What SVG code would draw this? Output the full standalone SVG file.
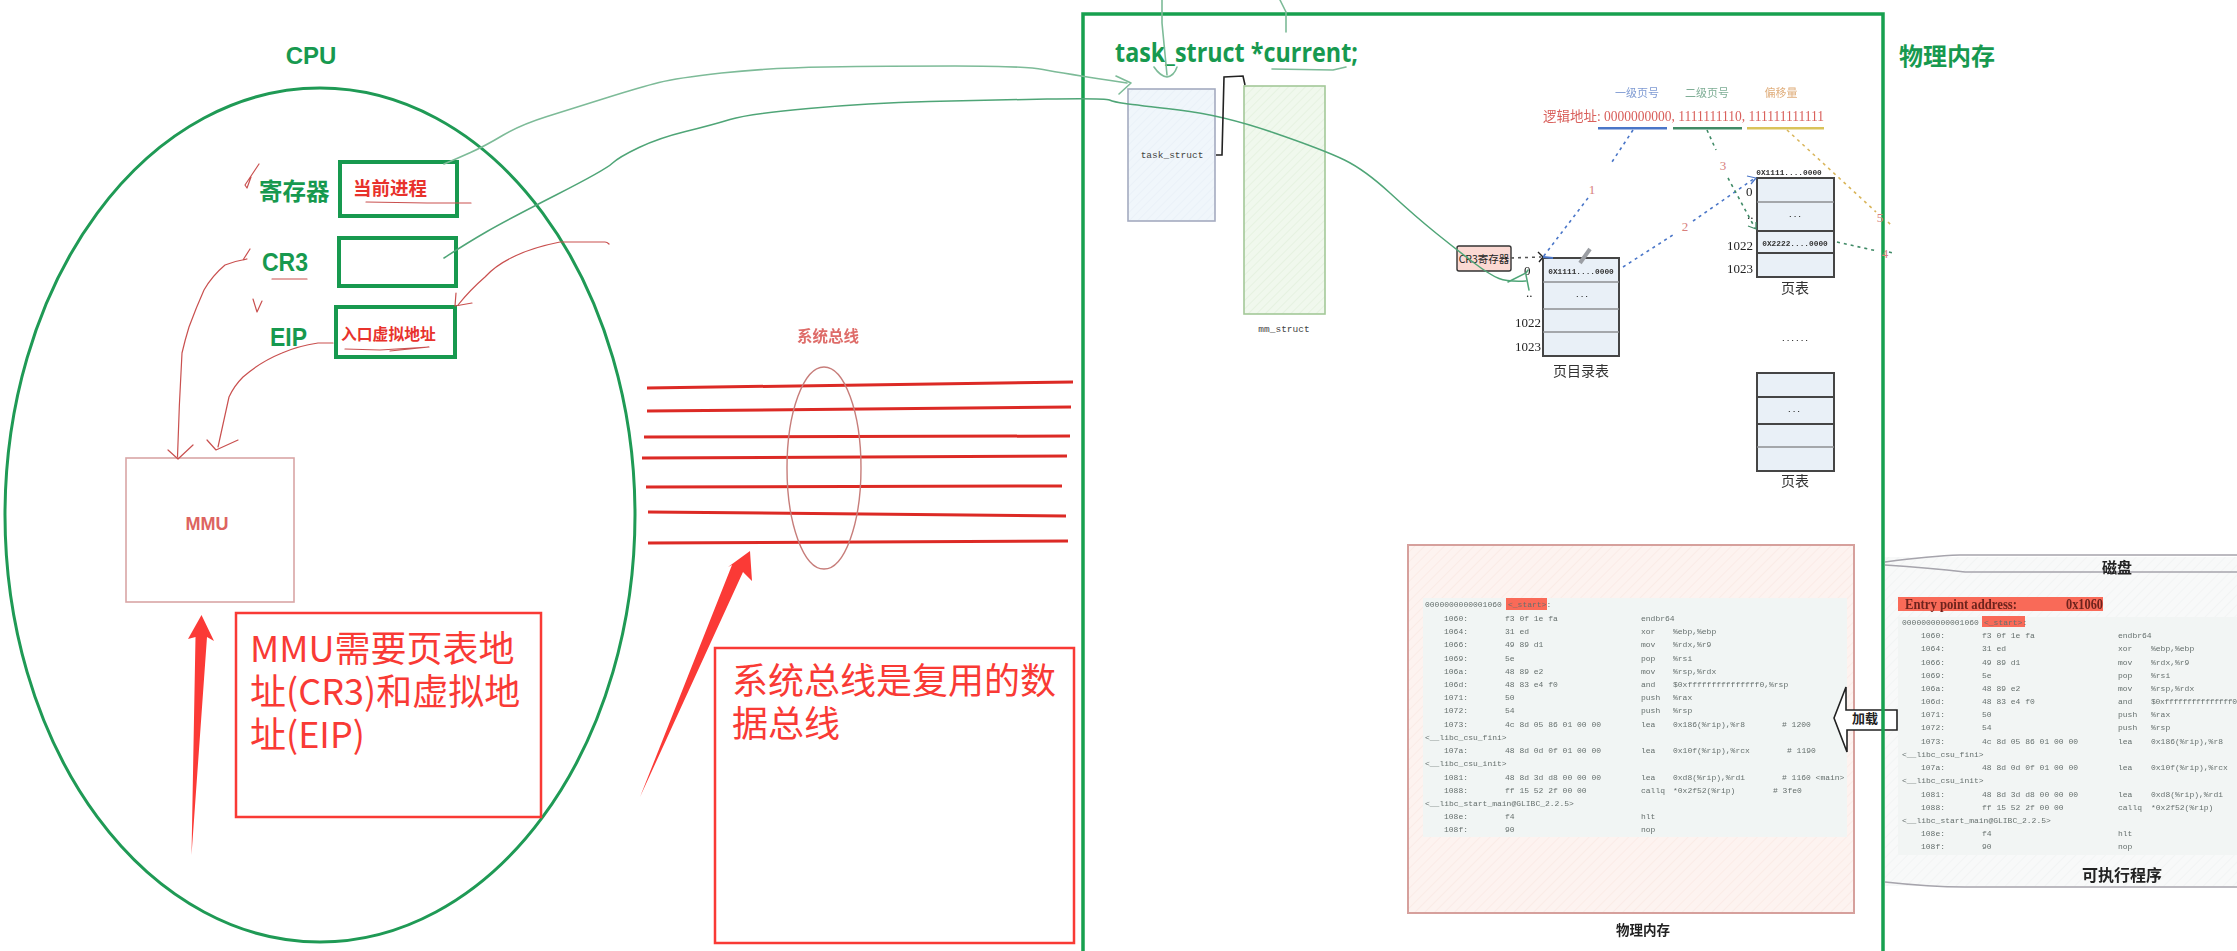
<svg xmlns="http://www.w3.org/2000/svg" width="2237" height="951" viewBox="0 0 2237 951">
<style>
text{font-family:"Liberation Sans","Noto Sans CJK SC",sans-serif}
.cjk{font-family:"Noto Sans CJK SC","Noto Sans",sans-serif}
.g{fill:#17994f;font-weight:700}
.gbox{fill:none;stroke:#17994f;stroke-width:4}
.rb{fill:#e8322c;font-weight:700}
.note{fill:#fff;stroke:#f93a35;stroke-width:2.5}
.nt{fill:#f93a35;font-size:36px;font-family:"Noto Sans CJK SC","Noto Sans",sans-serif}
.bus{stroke:#dc2a25;stroke-width:3;fill:none}
.hand{fill:none;stroke:#c9504f;stroke-width:1.2;stroke-linecap:round;stroke-linejoin:round}
.gcurve{fill:none;stroke:#7dbb98;stroke-width:1.6;stroke-linecap:round;stroke-linejoin:round}
.gcurve2{fill:none;stroke:#4fa577;stroke-width:1.5;stroke-linecap:round;stroke-linejoin:round}
.tb{stroke:#444;stroke-width:2}
.lt{stroke:#8c8f92;stroke-width:1.4}
.blk{fill:#222;font-size:13px;font-family:"Liberation Serif","Noto Sans CJK SC",serif}
.cap{fill:#333;font-size:14px;font-family:"Noto Sans CJK SC",sans-serif;text-anchor:middle}
.m{font-family:"Liberation Mono","DejaVu Sans Mono",monospace;font-size:8px;fill:#66706e}
.pk{fill:#d8807c;font-size:13px;font-family:"Liberation Serif",serif;text-anchor:middle}
.bl{font-size:7.8px;font-family:"Liberation Mono",monospace;fill:#333;text-anchor:middle;font-weight:700}
.dash{fill:none;stroke-width:1.6;stroke-dasharray:3 4}
.ep{font-family:"Liberation Serif",serif;font-weight:700;font-size:14px;fill:#6e241d}
.mono9{font-family:"Liberation Mono",monospace;font-size:9.5px;fill:#444;text-anchor:middle}
</style>
<defs>
<pattern id="hpink" width="7" height="7" patternUnits="userSpaceOnUse" patternTransform="rotate(45)"><rect width="7" height="7" fill="#fdf3f0"/><line x1="0" y1="0" x2="0" y2="7" stroke="#fae6e0" stroke-width="1.2"/></pattern>
<pattern id="hgrey" width="7" height="7" patternUnits="userSpaceOnUse" patternTransform="rotate(45)"><rect width="7" height="7" fill="#f8f9f9"/><line x1="0" y1="0" x2="0" y2="7" stroke="#eff1f1" stroke-width="1.2"/></pattern>
<pattern id="hblue" width="6" height="6" patternUnits="userSpaceOnUse" patternTransform="rotate(45)"><rect width="6" height="6" fill="#f0f6fb"/><line x1="0" y1="0" x2="0" y2="6" stroke="#e6eff6" stroke-width="1.2"/></pattern>
<pattern id="hgreen" width="6" height="6" patternUnits="userSpaceOnUse" patternTransform="rotate(45)"><rect width="6" height="6" fill="#f0f8ed"/><line x1="0" y1="0" x2="0" y2="6" stroke="#e0efda" stroke-width="1.2"/></pattern>
<filter id="soft" x="-2%" y="-2%" width="104%" height="104%"><feGaussianBlur stdDeviation="0.35"/></filter>
</defs>
<rect width="2237" height="951" fill="#fff"/>

<g id="cpu">
<ellipse cx="320" cy="515" rx="315" ry="427" fill="none" stroke="#1f9a55" stroke-width="3"/>
<text x="311" y="64" class="g" font-size="24" text-anchor="middle">CPU</text>
</g>
<g id="reg-current">
<rect x="340" y="162" width="117" height="54" class="gbox"/>
<text x="259" y="200" class="g cjk" font-size="23.5">寄存器</text>
<text x="353" y="195" class="rb cjk" font-size="18.5">当前进程</text>
</g>
<g id="reg-cr3">
<rect x="339" y="238" width="117" height="48" class="gbox"/>
<text x="262" y="271" class="g" font-size="25" textLength="46" lengthAdjust="spacingAndGlyphs">CR3</text>
</g>
<g id="reg-eip">
<rect x="336" y="307" width="119" height="50" class="gbox"/>
<text x="270" y="346" class="g" font-size="25" textLength="37" lengthAdjust="spacingAndGlyphs">EIP</text>
<text x="341" y="340" class="rb cjk" font-size="15.8">入口虚拟地址</text>
</g>
<g id="mmu">
<rect x="126" y="458" width="168" height="144" fill="#fff" stroke="#d9a6a6" stroke-width="1.6"/>
<text x="207" y="530" font-size="18" font-weight="700" fill="#dd6460" text-anchor="middle">MMU</text>
</g>
<g id="note-mmu">
<rect x="236" y="613" width="305" height="204" class="note"/>
<text x="250" y="662" class="nt">MMU需要页表地</text>
<text x="250" y="705" class="nt">址(CR3)和虚拟地</text>
<text x="250" y="748" class="nt">址(EIP)</text>
</g>
<g id="note-bus">
<rect x="715" y="648" width="359" height="295" class="note"/>
<text x="732" y="694" class="nt">系统总线是复用的数</text>
<text x="732" y="737" class="nt">据总线</text>
</g>
<g id="system-bus">
<line x1="647" y1="388" x2="1073" y2="382" class="bus"/>
<line x1="647" y1="411" x2="1071" y2="407" class="bus"/>
<line x1="644" y1="437" x2="1070" y2="436" class="bus"/>
<line x1="642" y1="458" x2="1067" y2="456" class="bus"/>
<line x1="646" y1="487" x2="1062" y2="486" class="bus"/>
<line x1="648" y1="512" x2="1066" y2="516" class="bus"/>
<line x1="648" y1="543" x2="1068" y2="541" class="bus"/>
<ellipse cx="824" cy="468" rx="37" ry="101" fill="none" stroke="#c77d7a" stroke-width="1.4"/>
<text x="828" y="342" class="cjk" font-size="15.5" fill="#d9534f" font-weight="700" text-anchor="middle" opacity="0.85">系统总线</text>
</g>

<g id="disk">
<rect x="1885" y="557" width="352" height="329" fill="url(#hgrey)"/>
<rect x="1898" y="617" width="339" height="238" fill="#f2f5f4"/>
<path d="M1885 562Q1930 556 1960 555H2237M1885 565Q1930 568 1965 572H2237M1885 882Q1930 887 1965 887H2237" fill="none" stroke="#a6a4ac" stroke-width="1.4" filter="url(#soft)"/>
<g filter="url(#soft)">
<text x="2117" y="573" class="cjk" font-size="15" font-weight="700" fill="#222" text-anchor="middle">磁盘</text>
<rect x="1898" y="597" width="205" height="14" fill="#f96a58"/>
<text x="1905" y="609" class="ep" textLength="112" lengthAdjust="spacingAndGlyphs">Entry point address:</text>
<text x="2066" y="609" class="ep" textLength="37" lengthAdjust="spacingAndGlyphs">0x1060</text>
<rect x="1982" y="616" width="43" height="11" fill="#f96a58"/>
<text x="1902" y="625" class="m">0000000000001060</text><text x="1984" y="625" class="m">&lt;_start&gt;:</text>
<text x="1921" y="638" class="m">1060:</text><text x="1982" y="638" class="m">f3 0f 1e fa</text><text x="2118" y="638" class="m">endbr64</text>
<text x="1921" y="651" class="m">1064:</text><text x="1982" y="651" class="m">31 ed</text><text x="2118" y="651" class="m">xor</text><text x="2151" y="651" class="m">%ebp,%ebp</text>
<text x="1921" y="665" class="m">1066:</text><text x="1982" y="665" class="m">49 89 d1</text><text x="2118" y="665" class="m">mov</text><text x="2151" y="665" class="m">%rdx,%r9</text>
<text x="1921" y="678" class="m">1069:</text><text x="1982" y="678" class="m">5e</text><text x="2118" y="678" class="m">pop</text><text x="2151" y="678" class="m">%rsi</text>
<text x="1921" y="691" class="m">106a:</text><text x="1982" y="691" class="m">48 89 e2</text><text x="2118" y="691" class="m">mov</text><text x="2151" y="691" class="m">%rsp,%rdx</text>
<text x="1921" y="704" class="m">106d:</text><text x="1982" y="704" class="m">48 83 e4 f0</text><text x="2118" y="704" class="m">and</text><text x="2151" y="704" class="m" textLength="86" lengthAdjust="spacing">$0xfffffffffffffff0</text>
<text x="1921" y="717" class="m">1071:</text><text x="1982" y="717" class="m">50</text><text x="2118" y="717" class="m">push</text><text x="2151" y="717" class="m">%rax</text>
<text x="1921" y="730" class="m">1072:</text><text x="1982" y="730" class="m">54</text><text x="2118" y="730" class="m">push</text><text x="2151" y="730" class="m">%rsp</text>
<text x="1921" y="744" class="m">1073:</text><text x="1982" y="744" class="m">4c 8d 05 86 01 00 00</text><text x="2118" y="744" class="m">lea</text><text x="2151" y="744" class="m">0x186(%rip),%r8</text>
<text x="1902" y="757" class="m">&lt;__libc_csu_fini&gt;</text>
<text x="1921" y="770" class="m">107a:</text><text x="1982" y="770" class="m">48 8d 0d 0f 01 00 00</text><text x="2118" y="770" class="m">lea</text><text x="2151" y="770" class="m">0x10f(%rip),%rcx</text>
<text x="1902" y="783" class="m">&lt;__libc_csu_init&gt;</text>
<text x="1921" y="797" class="m">1081:</text><text x="1982" y="797" class="m">48 8d 3d d8 00 00 00</text><text x="2118" y="797" class="m">lea</text><text x="2151" y="797" class="m">0xd8(%rip),%rdi</text>
<text x="1921" y="810" class="m">1088:</text><text x="1982" y="810" class="m">ff 15 52 2f 00 00</text><text x="2118" y="810" class="m">callq</text><text x="2151" y="810" class="m">*0x2f52(%rip)</text>
<text x="1902" y="823" class="m">&lt;__libc_start_main@GLIBC_2.2.5&gt;</text>
<text x="1921" y="836" class="m">108e:</text><text x="1982" y="836" class="m">f4</text><text x="2118" y="836" class="m">hlt</text>
<text x="1921" y="849" class="m">108f:</text><text x="1982" y="849" class="m">90</text><text x="2118" y="849" class="m">nop</text>
<text x="2122" y="881" class="cjk" font-size="16" font-weight="700" fill="#222" text-anchor="middle">可执行程序</text>
</g>
</g>

<g id="physical-memory">
<rect x="1408" y="545" width="446" height="368" fill="url(#hpink)" stroke="#d6a09c" stroke-width="2"/>
<rect x="1423" y="598" width="424" height="239" fill="#f1f5f4"/>
<g filter="url(#soft)">
<rect x="1506" y="598" width="41" height="12" fill="#f96a58"/>
<text x="1425" y="607" class="m">0000000000001060</text><text x="1508" y="607" class="m">&lt;_start&gt;:</text>
<text x="1444" y="621" class="m">1060:</text><text x="1505" y="621" class="m">f3 0f 1e fa</text><text x="1641" y="621" class="m">endbr64</text>
<text x="1444" y="634" class="m">1064:</text><text x="1505" y="634" class="m">31 ed</text><text x="1641" y="634" class="m">xor</text><text x="1673" y="634" class="m">%ebp,%ebp</text>
<text x="1444" y="647" class="m">1066:</text><text x="1505" y="647" class="m">49 89 d1</text><text x="1641" y="647" class="m">mov</text><text x="1673" y="647" class="m">%rdx,%r9</text>
<text x="1444" y="661" class="m">1069:</text><text x="1505" y="661" class="m">5e</text><text x="1641" y="661" class="m">pop</text><text x="1673" y="661" class="m">%rsi</text>
<text x="1444" y="674" class="m">106a:</text><text x="1505" y="674" class="m">48 89 e2</text><text x="1641" y="674" class="m">mov</text><text x="1673" y="674" class="m">%rsp,%rdx</text>
<text x="1444" y="687" class="m">106d:</text><text x="1505" y="687" class="m">48 83 e4 f0</text><text x="1641" y="687" class="m">and</text><text x="1673" y="687" class="m">$0xfffffffffffffff0,%rsp</text>
<text x="1444" y="700" class="m">1071:</text><text x="1505" y="700" class="m">50</text><text x="1641" y="700" class="m">push</text><text x="1673" y="700" class="m">%rax</text>
<text x="1444" y="713" class="m">1072:</text><text x="1505" y="713" class="m">54</text><text x="1641" y="713" class="m">push</text><text x="1673" y="713" class="m">%rsp</text>
<text x="1444" y="727" class="m">1073:</text><text x="1505" y="727" class="m">4c 8d 05 86 01 00 00</text><text x="1641" y="727" class="m">lea</text><text x="1673" y="727" class="m">0x186(%rip),%r8</text><text x="1782" y="727" class="m"># 1200</text>
<text x="1425" y="740" class="m">&lt;__libc_csu_fini&gt;</text>
<text x="1444" y="753" class="m">107a:</text><text x="1505" y="753" class="m">48 8d 0d 0f 01 00 00</text><text x="1641" y="753" class="m">lea</text><text x="1673" y="753" class="m">0x10f(%rip),%rcx</text><text x="1787" y="753" class="m"># 1190</text>
<text x="1425" y="766" class="m">&lt;__libc_csu_init&gt;</text>
<text x="1444" y="780" class="m">1081:</text><text x="1505" y="780" class="m">48 8d 3d d8 00 00 00</text><text x="1641" y="780" class="m">lea</text><text x="1673" y="780" class="m">0xd8(%rip),%rdi</text><text x="1782" y="780" class="m"># 1160 &lt;main&gt;</text>
<text x="1444" y="793" class="m">1088:</text><text x="1505" y="793" class="m">ff 15 52 2f 00 00</text><text x="1641" y="793" class="m">callq</text><text x="1673" y="793" class="m">*0x2f52(%rip)</text><text x="1773" y="793" class="m"># 3fe0</text>
<text x="1425" y="806" class="m">&lt;__libc_start_main@GLIBC_2.2.5&gt;</text>
<text x="1444" y="819" class="m">108e:</text><text x="1505" y="819" class="m">f4</text><text x="1641" y="819" class="m">hlt</text>
<text x="1444" y="832" class="m">108f:</text><text x="1505" y="832" class="m">90</text><text x="1641" y="832" class="m">nop</text>
<text x="1643" y="935" class="cjk" font-size="13.5" font-weight="700" fill="#222" text-anchor="middle">物理内存</text>
</g>
</g>

<g id="load-arrow">
<path d="M1834 718L1846 687V710H1897V730H1847V752Z" fill="#fff" stroke="#222" stroke-width="1.6"/>
<text x="1865" y="723" class="cjk" font-size="13" font-weight="700" fill="#222" text-anchor="middle">加载</text>
</g>

<g id="kernel-frame">
<rect x="1083" y="14" width="800" height="945" fill="none" stroke="#17a04f" stroke-width="3.5"/>
<text x="1115" y="62" class="g" font-size="27" textLength="243" lengthAdjust="spacingAndGlyphs" style="font-family:'Open Sans',sans-serif">task_struct *current;</text>
<text x="1899" y="65" class="g cjk" font-size="24">物理内存</text>
</g>

<g id="task-struct">
<rect x="1128" y="89" width="87" height="132" fill="url(#hblue)" stroke="#a4abc0" stroke-width="1.6"/>
<text x="1172" y="158" class="mono9">task_struct</text>
</g>
<g id="mm-struct">
<rect x="1244" y="86" width="81" height="228" fill="url(#hgreen)" stroke="#a3c898" stroke-width="1.6"/>
<text x="1284" y="332" class="mono9">mm_struct</text>
</g>
<g id="cr3-register">
<rect x="1457" y="246" width="54" height="25" rx="2" fill="#fbd9d3" stroke="#333" stroke-width="1.4"/>
<text x="1484" y="263" font-size="10.5" fill="#222" text-anchor="middle" class="cjk">CR3寄存器</text>
</g>
<g id="page-directory" filter="url(#soft)">
<rect x="1543" y="258" width="76" height="98" fill="#e9f0f7" stroke="#444" stroke-width="2"/>
<line x1="1543" y1="282" x2="1619" y2="282" class="lt"/><line x1="1543" y1="309" x2="1619" y2="309" class="lt"/><line x1="1543" y1="332" x2="1619" y2="332" class="lt"/>
<text x="1581" y="274" class="bl">0X1111....0000</text>
<text x="1582" y="297" class="bl">...</text>
<text x="1524" y="275" class="blk">0</text><text x="1526" y="297" class="blk">..</text>
<text x="1515" y="327" class="blk">1022</text><text x="1515" y="351" class="blk">1023</text>
<text x="1581" y="376" class="cap">页目录表</text>
<path d="M1580 263L1590 249" stroke="#9b9ea3" stroke-width="4" fill="none"/>
</g>
<g id="page-table-1" filter="url(#soft)">
<rect x="1757" y="178" width="77" height="99" fill="#e9f0f7" stroke="#444" stroke-width="2"/>
<line x1="1757" y1="202" x2="1834" y2="202" class="lt"/><line x1="1757" y1="231" x2="1834" y2="231" class="tb"/><line x1="1757" y1="253" x2="1834" y2="253" class="tb"/>
<text x="1789" y="175" class="bl">0X1111....0000</text>
<text x="1795" y="217" class="bl">...</text>
<text x="1795" y="246" class="bl">0X2222....0000</text>
<text x="1746" y="196" class="blk">0</text><text x="1747" y="219" class="blk">..</text>
<text x="1727" y="250" class="blk">1022</text><text x="1727" y="273" class="blk">1023</text>
<text x="1795" y="293" class="cap">页表</text>
</g>
<g id="page-table-2" filter="url(#soft)">
<text x="1795" y="341" class="bl">......</text>
<rect x="1757" y="373" width="77" height="98" fill="#e9f0f7" stroke="#444" stroke-width="2"/>
<line x1="1757" y1="397" x2="1834" y2="397" class="tb"/><line x1="1757" y1="424" x2="1834" y2="424" class="tb"/><line x1="1757" y1="447" x2="1834" y2="447" class="lt"/>
<text x="1794" y="412" class="bl">...</text>
<text x="1795" y="486" class="cap">页表</text>
</g>
<g id="logical-address" filter="url(#soft)">
<text x="1637" y="97" class="cjk" font-size="11" fill="#7f9bd3" text-anchor="middle">一级页号</text>
<text x="1707" y="97" class="cjk" font-size="11" fill="#7fae96" text-anchor="middle">二级页号</text>
<text x="1781" y="97" class="cjk" font-size="11" fill="#e0ae7c" text-anchor="middle">偏移量</text>
<text x="1543" y="121" font-size="14" fill="#d9605c" style="font-family:'Liberation Serif','Noto Sans CJK SC',serif" textLength="281" lengthAdjust="spacingAndGlyphs">逻辑地址: 0000000000, 1111111110, 111111111111</text>
<rect x="1598" y="127" width="69" height="2.5" fill="#4a76c8"/>
<rect x="1673" y="127" width="69" height="2.5" fill="#3f8a66"/>
<rect x="1747" y="127" width="77" height="2.5" fill="#d9c35a"/>
</g>

<g id="connectors">
<path class="gcurve" d="M444 164Q456 159 470.500 152.500Q485 146 502.500 135.500Q520 125 547 116.500Q574 108 607.500 97.500Q641 87 659 82.500Q677 78 721.500 73Q766 68 826 67Q886 66 955 66Q1025 66 1043 69.500Q1061 73 1127 83"/>
<path class="gcurve" d="M1116 76L1131 83L1119 94"/>
<path class="gcurve2" d="M444 258Q467 243 487 231.500Q507 220 556 195Q605 170 612 163.500Q619 157 639 147.500Q659 138 685.500 131.500Q712 125 730 119.500Q748 114 808.500 108.500Q869 103 929 101.500Q989 100 1047 99Q1105 98 1109.500 100Q1114 102 1125 103.500Q1136 105 1179 110Q1222 115 1273 132.500Q1324 150 1344.500 160Q1365 170 1390.500 193.500Q1416 217 1436.500 233.500Q1457 250 1473.500 262.500Q1490 275 1499 278.500Q1508 282 1526 281"/>
<path class="gcurve2" d="M1508 282L1526 273L1528 270M1526 275L1529 290"/>
<path class="hand" d="M609 244Q607 242 605 242H560Q530 248 511 258Q495 266 485 277Q470 290 458 305"/>
<path class="hand" d="M456 293L455 306L472 303"/>
<path class="hand" d="M250 249L243 260L247 259Q235 261 225 265Q212 276 204 290Q196 308 189 327Q185 340 182 353Q179 405 177.500 457"/>
<path class="hand" d="M168 450L178 459L193 445"/>
<path class="hand" d="M333 343H318Q298 346 282 353Q260 362 243 377Q234 386 229 397L218 447"/>
<path class="hand" d="M207 440L216 450L238 440"/>
<path class="hand" d="M259 164L245 185L247 188L251 177"/>
<path class="hand" d="M253 299L257 312L262 301"/>
<path class="hand" stroke-width="1.4" d="M366 202L427 203L471 203"/>
<path class="hand" d="M272 279H307"/>
<path class="hand" stroke-width="1.6" d="M345 349L380 350L429 347L390 351"/>
<path class="gcurve" d="M1162 0L1162 23L1167 75"/>
<path class="gcurve" d="M1154 67Q1160 76 1167 77Q1174 76 1177 67"/>
<path class="gcurve" d="M1280 0L1286 12L1286 32"/>
<path class="gcurve" d="M1272 69L1333 70L1346 67"/>
<path d="M1216 155H1222L1224 77L1243 76L1245 85" fill="none" stroke="#222" stroke-width="1.6"/>
<path class="dash" stroke="#555" d="M1511 258L1541 257"/>
<path d="M1538 252L1543 257L1539 262" fill="none" stroke="#222" stroke-width="1.4"/>
<path class="dash" stroke="#4a76c8" d="M1633 130L1610 165M1588 198L1543 257"/>
<path d="M1543 257L1553 258" stroke="#4a76c8" stroke-width="2"/>
<path class="dash" stroke="#4a76c8" d="M1623 267L1676 233M1693 221L1755 178"/>
<path d="M1747 176L1756 178L1751 184" fill="none" stroke="#4a76c8" stroke-width="1.2"/>
<path class="dash" stroke="#3f8a66" d="M1707 130L1716 150M1728 178L1755 228"/>
<path d="M1748 226L1756 229L1756 222" fill="none" stroke="#3f8a66" stroke-width="1.2"/>
<path class="dash" stroke="#d9b55a" d="M1787 130L1876 212M1888 222L1892 226"/>
<path class="dash" stroke="#3f8a66" d="M1837 242L1877 251M1889 252L1893 253"/>
<text x="1592" y="194" class="pk">1</text>
<text x="1685" y="231" class="pk">2</text>
<text x="1723" y="170" class="pk">3</text>
<text x="1880" y="222" class="pk">5</text>
<text x="1885" y="258" class="pk">4</text>
<polygon points="201.5,615 214,641 207,637 191.5,855 195.5,637 188,639" fill="#fb3a36"/>
<polygon points="750,551 752,581 743,572 640,797 732,565 728,567" fill="#fb3a36"/>
</g>
</svg>
